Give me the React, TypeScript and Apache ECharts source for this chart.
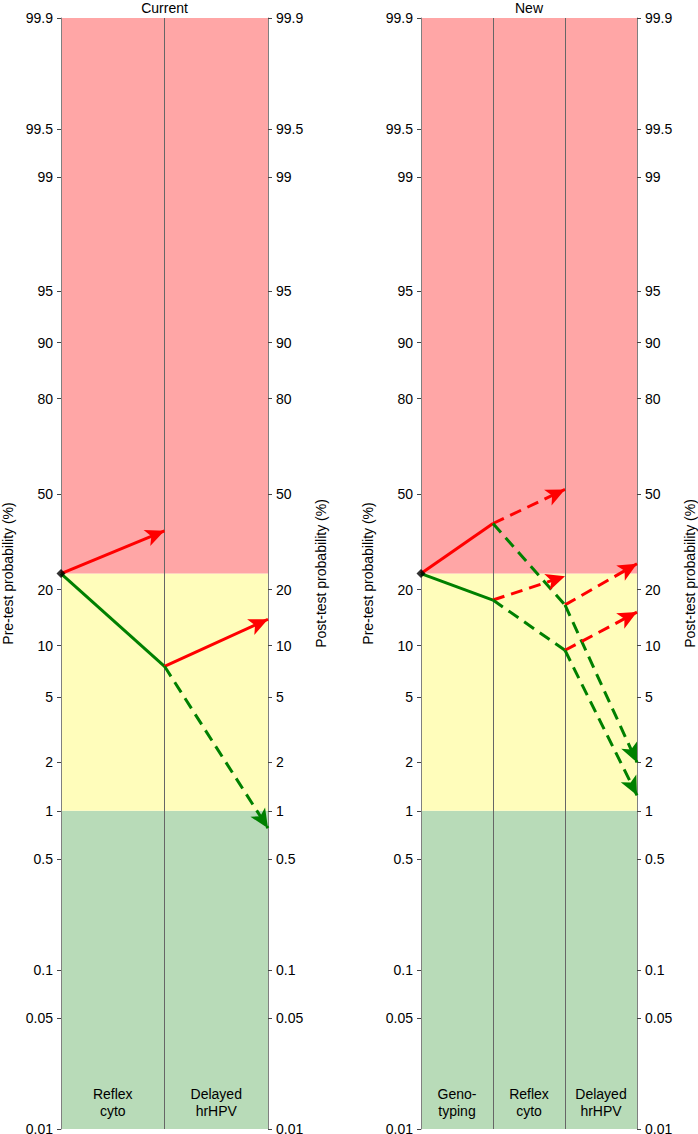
import React, { useEffect, useRef } from 'react';
import * as echarts from 'echarts';

// ---- data ----
const tickPct = [0.01, 0.05, 0.1, 0.5, 1, 2, 5, 10, 20, 50, 80, 90, 95, 99, 99.5, 99.9];
const tickLabels = ['0.01', '0.05', '0.1', '0.5', '1', '2', '5', '10', '20', '50', '80', '90', '95', '99', '99.5', '99.9'];
const axisMinPct = 0.01;
const axisMaxPct = 99.9;
const zoneBoundsPct = [0.01, 1, 24, 99.9]; // green | yellow | red
const preTestPct = 24;

const currentSteps = ['Reflex\ncyto', 'Delayed\nhrHPV'];
const newSteps = ['Geno-\ntyping', 'Reflex\ncyto', 'Delayed\nhrHPV'];

type Path = { from: number; fromPct: number; toPct: number; outcome: 'pos' | 'neg'; dashed: boolean; terminal: boolean };

const currentPaths: Path[] = [
  { from: 0, fromPct: 24, toPct: 37.0, outcome: 'pos', dashed: false, terminal: true },
  { from: 0, fromPct: 24, toPct: 7.6, outcome: 'neg', dashed: false, terminal: false },
  { from: 1, fromPct: 7.6, toPct: 14.0, outcome: 'pos', dashed: false, terminal: true },
  { from: 1, fromPct: 7.6, toPct: 0.78, outcome: 'neg', dashed: true, terminal: true },
];

const newPaths: Path[] = [
  { from: 0, fromPct: 24, toPct: 39.5, outcome: 'pos', dashed: false, terminal: false },
  { from: 0, fromPct: 24, toPct: 17.7, outcome: 'neg', dashed: false, terminal: false },
  { from: 1, fromPct: 39.5, toPct: 51.7, outcome: 'pos', dashed: true, terminal: true },
  { from: 1, fromPct: 39.5, toPct: 16.7, outcome: 'neg', dashed: true, terminal: false },
  { from: 1, fromPct: 17.7, toPct: 23.3, outcome: 'pos', dashed: true, terminal: true },
  { from: 1, fromPct: 17.7, toPct: 9.4, outcome: 'neg', dashed: true, terminal: false },
  { from: 2, fromPct: 16.7, toPct: 26.7, outcome: 'pos', dashed: true, terminal: true },
  { from: 2, fromPct: 16.7, toPct: 2.0, outcome: 'neg', dashed: true, terminal: true },
  { from: 2, fromPct: 9.4, toPct: 15.3, outcome: 'pos', dashed: true, terminal: true },
  { from: 2, fromPct: 9.4, toPct: 1.25, outcome: 'neg', dashed: true, terminal: true },
];

// ---- styles ----
const FONT = '"Liberation Sans", Arial, Helvetica, sans-serif';
const RED = '#ff0000';
const GREEN = '#008000';
const ZONE_COLORS = ['#b8dbb8', '#fffdbb', '#ffa6a6'];
const LW = 3;
const DASH = [12, 7];
const ARROW_SIZE = [13, 19];

const logit = (pct: number) => Math.log(pct / (100 - pct));
const tickVals = tickPct.map(logit);
const labelFor = (v: number) => {
  const i = tickVals.findIndex((t) => Math.abs(t - v) < 1e-6);
  return i >= 0 ? tickLabels[i] : '';
};

function yAxisFor(gridIndex: number, position: 'left' | 'right', name: string) {
  return {
    type: 'value',
    gridIndex,
    position,
    min: logit(axisMinPct),
    max: logit(axisMaxPct),
    z: 2,
    name,
    nameLocation: 'middle',
    nameRotate: 90,
    nameGap: 46,
    nameTextStyle: { fontFamily: FONT, fontSize: 14, color: '#000' },
    axisLine: { show: true, lineStyle: { color: '#808080', width: 1 } },
    axisTick: { show: true, customValues: tickVals, length: 4, lineStyle: { color: '#444' } },
    axisLabel: {
      show: true,
      customValues: tickVals,
      formatter: labelFor,
      margin: 8,
      fontFamily: FONT,
      fontSize: 14,
      lineHeight: 10,
      color: '#000',
      showMinLabel: true,
      showMaxLabel: true,
    },
    splitLine: { show: false },
  };
}

function xAxesFor(gridIndex: number, steps: string[], title: string) {
  return [
    {
      type: 'value',
      gridIndex,
      position: 'top',
      min: 0,
      max: steps.length,
      interval: 1,
      z: 2,
      name: title,
      nameLocation: 'middle',
      nameGap: 3,
      nameTextStyle: { fontFamily: FONT, fontSize: 14, color: '#000' },
      axisLine: { show: false },
      axisTick: { show: false },
      axisLabel: { show: false },
      splitLine: { show: true, lineStyle: { color: '#666666', width: 1 } },
    },
    {
      type: 'category',
      gridIndex,
      position: 'bottom',
      data: steps,
      z: 2,
      axisLine: { show: false },
      axisTick: { show: false },
      splitLine: { show: false },
      axisLabel: { inside: true, interval: 0, margin: 10, fontFamily: FONT, fontSize: 14, lineHeight: 17, color: '#000' },
    },
  ];
}

function seriesFor(xAxisIndex: number, yAxisIndex: number, paths: Path[]) {
  const zones = zoneBoundsPct.slice(0, -1).map((lo, i) => [
    { yAxis: logit(lo), itemStyle: { color: ZONE_COLORS[i], opacity: 1 } },
    { yAxis: logit(zoneBoundsPct[i + 1]) },
  ]);
  const lines = paths.map((p) => {
    const color = p.outcome === 'pos' ? RED : GREEN;
    return [
      {
        coord: [p.from, logit(p.fromPct)],
        symbol: 'none',
        lineStyle: { color, width: LW, type: p.dashed ? DASH : 'solid', opacity: 1 },
      },
      {
        coord: [p.from + 1, logit(p.toPct)],
        symbol: p.terminal ? 'arrow' : 'none',
        symbolSize: ARROW_SIZE,
      },
    ];
  });
  return {
    type: 'scatter',
    xAxisIndex,
    yAxisIndex,
    z: 6,
    silent: true,
    data: [[0, logit(preTestPct)]],
    symbol: 'diamond',
    symbolSize: [9, 9],
    itemStyle: { color: '#000' },
    markArea: { silent: true, z: 1, data: zones, label: { show: false } },
    markLine: {
      silent: true,
      z: 5,
      symbol: ['none', 'none'],
      label: { show: false },
      emphasis: { disabled: true },
      data: lines,
    },
  };
}

export default function App() {
  const ref = useRef<HTMLDivElement>(null);
  useEffect(() => {
    if (!ref.current) return;
    const chart = echarts.init(ref.current, null, { renderer: 'svg' });
    const [x0, x1] = xAxesFor(0, currentSteps, 'Current');
    const [x2, x3] = xAxesFor(1, newSteps, 'New');
    chart.setOption({
      animation: false,
      backgroundColor: '#ffffff',
      textStyle: { fontFamily: FONT },
      grid: [
        { left: 61, top: 18, width: 207, height: 1111, outerBoundsMode: 'none', containLabel: false },
        { left: 421, top: 18, width: 216, height: 1111, outerBoundsMode: 'none', containLabel: false },
      ],
      xAxis: [x0, x1, x2, x3],
      yAxis: [
        yAxisFor(0, 'left', 'Pre-test probability (%)'),
        yAxisFor(0, 'right', 'Post-test probability (%)'),
        yAxisFor(1, 'left', 'Pre-test probability (%)'),
        yAxisFor(1, 'right', 'Post-test probability (%)'),
      ],
      series: [seriesFor(0, 0, currentPaths), seriesFor(2, 2, newPaths)],
    });
    return () => chart.dispose();
  }, []);
  return <div ref={ref} style={{ position: 'absolute', left: 0, top: 0, width: 698, height: 1134 }} />;
}
